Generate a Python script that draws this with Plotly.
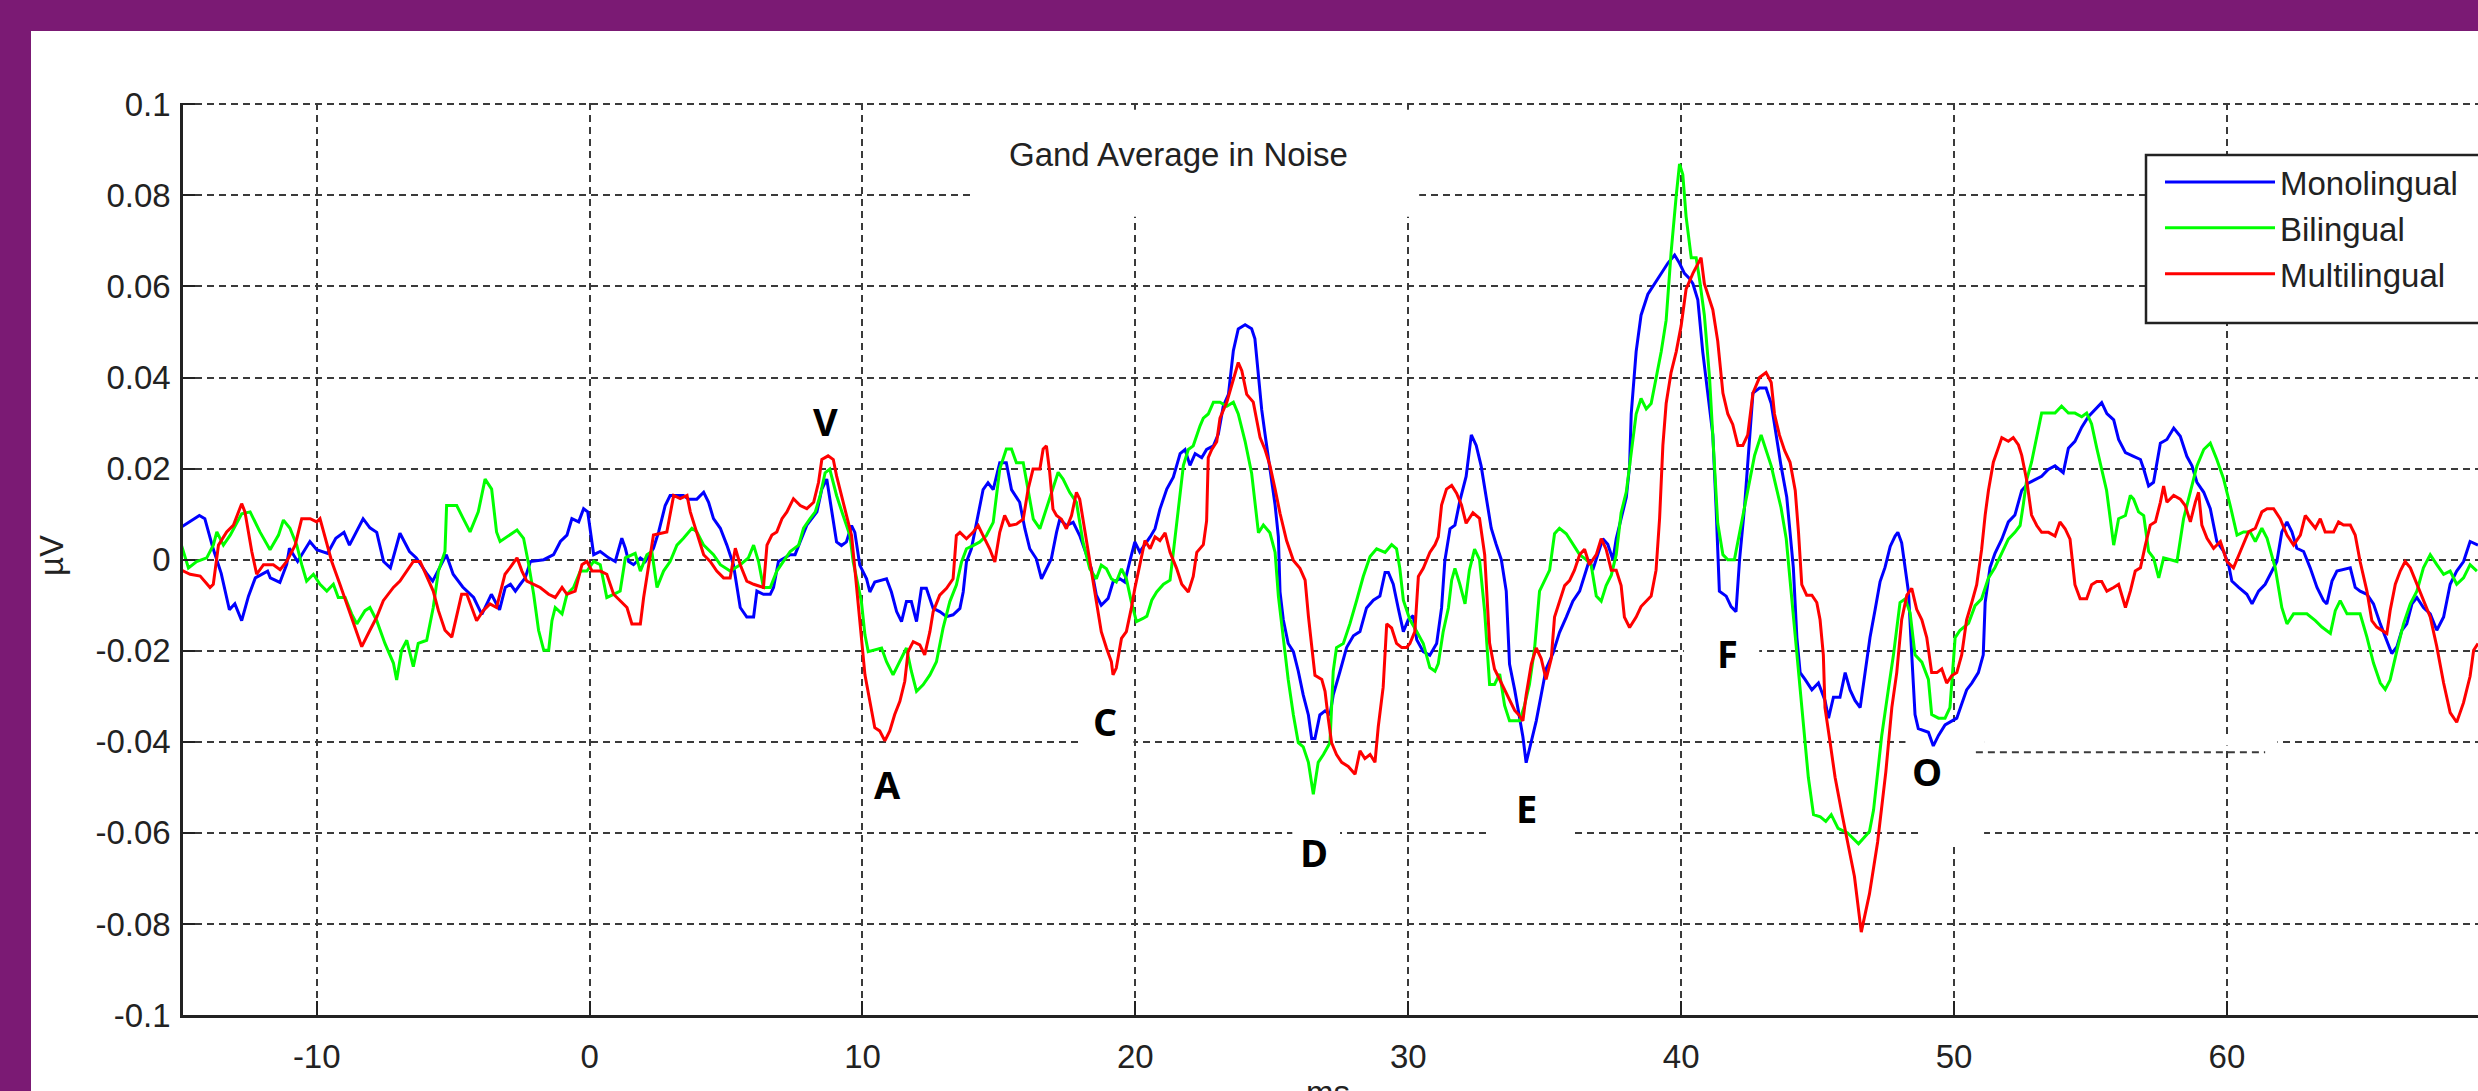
import plotly.graph_objects as go

# ---------------- data (ms, µV) ----------------
blue_t = [-15.0, -14.3, -14.1, -13.8, -13.5, -13.2, -13.0, -12.75, -12.5, -12.25, -11.8, -11.7, -11.35, -11.1, -11.0, -10.7, -10.25, -10.0, -9.6, -9.3, -9.0, -8.8, -8.3, -8.05, -7.8, -7.55, -7.3, -6.95, -6.6, -6.35, -5.95, -5.75, -5.25, -5.0, -4.65, -4.25, -3.95, -3.6, -3.3, -3.09, -2.9, -2.72, -2.54, -2.36, -2.17, -1.68, -1.32, -1.07, -0.83, -0.65, -0.4, -0.22, -0.07, 0.02, 0.15, 0.39, 0.7, 0.94, 1.18, 1.31, 1.43, 1.61, 1.86, 2.04, 2.34, 2.53, 2.77, 2.95, 3.44, 3.63, 3.93, 4.18, 4.36, 4.54, 4.79, 5.03, 5.27, 5.52, 5.76, 6.01, 6.13, 6.37, 6.62, 6.74, 6.92, 7.35, 7.53, 7.72, 7.96, 8.33, 8.51, 8.69, 8.85, 9.05, 9.23, 9.41, 9.6, 9.72, 9.9, 10.15, 10.27, 10.45, 10.88, 11.06, 11.25, 11.43, 11.61, 11.79, 11.98, 12.16, 12.34, 12.59, 12.83, 13.08, 13.32, 13.57, 13.69, 13.81, 13.99, 14.18, 14.42, 14.6, 14.79, 15.03, 15.27, 15.46, 15.76, 15.95, 16.13, 16.37, 16.56, 16.74, 16.92, 17.11, 17.23, 17.47, 17.72, 17.96, 18.21, 18.39, 18.57, 18.75, 19.0, 19.18, 19.43, 19.61, 19.79, 19.98, 20.16, 20.35, 20.54, 20.72, 20.9, 21.15, 21.39, 21.64, 21.82, 22.0, 22.19, 22.43, 22.61, 22.86, 23.04, 23.22, 23.41, 23.59, 23.77, 24.02, 24.26, 24.38, 24.51, 24.63, 24.75, 24.87, 24.99, 25.12, 25.24, 25.3, 25.42, 25.6, 25.79, 25.97, 26.15, 26.34, 26.46, 26.58, 26.76, 26.95, 27.13, 27.25, 27.5, 27.74, 27.99, 28.23, 28.47, 28.72, 28.96, 29.15, 29.27, 29.45, 29.63, 29.82, 30.0, 30.18, 30.31, 30.55, 30.79, 31.04, 31.22, 31.34, 31.53, 31.71, 31.89, 32.12, 32.31, 32.49, 32.67, 32.86, 33.04, 33.22, 33.41, 33.59, 33.71, 33.9, 34.08, 34.2, 34.32, 34.51, 34.69, 34.87, 35.05, 35.3, 35.54, 35.79, 36.03, 36.28, 36.46, 36.64, 36.76, 37.01, 37.13, 37.31, 37.5, 37.62, 37.8, 37.99, 38.11, 38.17, 38.35, 38.53, 38.78, 39.02, 39.27, 39.51, 39.76, 39.94, 40.12, 40.31, 40.43, 40.61, 40.79, 40.98, 41.16, 41.28, 41.4, 41.65, 41.83, 42.01, 42.14, 42.32, 42.5, 42.63, 42.87, 43.11, 43.3, 43.48, 43.66, 43.87, 43.99, 44.11, 44.24, 44.36, 44.54, 44.79, 45.03, 45.27, 45.4, 45.58, 45.82, 46.01, 46.19, 46.37, 46.56, 46.74, 46.92, 47.11, 47.29, 47.47, 47.66, 47.84, 47.94, 48.08, 48.21, 48.33, 48.45, 48.57, 48.69, 49.06, 49.24, 49.43, 49.67, 50.1, 50.28, 50.46, 50.65, 50.89, 51.07, 51.14, 51.32, 51.5, 51.75, 51.99, 52.23, 52.48, 52.72, 52.97, 53.21, 53.45, 53.7, 54.0, 54.19, 54.43, 54.68, 54.92, 55.16, 55.41, 55.6, 55.85, 56.03, 56.28, 56.58, 56.83, 56.95, 57.13, 57.31, 57.56, 57.8, 58.05, 58.29, 58.53, 58.72, 58.9, 59.15, 59.39, 59.63, 59.88, 60.06, 60.18, 60.43, 60.73, 60.92, 61.16, 61.4, 61.65, 61.83, 62.01, 62.2, 62.38, 62.56, 62.81, 63.05, 63.3, 63.54, 63.66, 63.85, 64.03, 64.52, 64.7, 64.88, 65.13, 65.37, 65.62, 65.86, 66.04, 66.23, 66.41, 66.59, 66.78, 66.96, 67.2, 67.45, 67.69, 67.94, 68.18, 68.42, 68.67, 68.91, 69.2]
blue_v = [0.007, 0.0097, 0.009, 0.0025, -0.003, -0.011, -0.0097, -0.0134, -0.008, -0.004, -0.0025, -0.004, -0.005, -0.001, 0.0025, -0.0004, 0.004, 0.0022, 0.0014, 0.0047, 0.006, 0.0032, 0.009, 0.007, 0.006, -0.0004, -0.0018, 0.0058, 0.0018, 0.0004, -0.0032, -0.0047, 0.0011, -0.0032, -0.006, -0.0083, -0.012, -0.0076, -0.011, -0.0061, -0.0054, -0.0069, -0.0054, -0.004, -0.0004, 0.0, 0.0011, 0.004, 0.0054, 0.009, 0.0083, 0.0112, 0.0105, 0.0069, 0.0011, 0.0018, 0.0004, -0.0004, 0.0047, 0.0025, -0.0004, -0.0011, 0.0004, -0.0004, 0.0025, 0.0061, 0.0119, 0.0141, 0.0141, 0.0133, 0.0133, 0.0148, 0.0126, 0.009, 0.0069, 0.0032, -0.0011, -0.0105, -0.0126, -0.0126, -0.0069, -0.0076, -0.0076, -0.0061, -0.0004, 0.0011, 0.0011, 0.004, 0.0076, 0.0105, 0.0155, 0.0177, 0.012, 0.0039, 0.0031, 0.0039, 0.0075, 0.006, -0.0012, -0.0042, -0.0071, -0.0049, -0.0042, -0.0071, -0.0114, -0.0136, -0.0092, -0.0092, -0.0136, -0.0063, -0.0063, -0.0107, -0.0114, -0.0125, -0.0121, -0.0107, -0.0071, -0.0005, 0.0024, 0.0082, 0.0154, 0.0169, 0.0154, 0.0213, 0.0213, 0.0154, 0.0126, 0.0068, 0.0024, 0.0002, -0.0042, -0.002, 0.0002, 0.006, 0.0089, 0.0075, 0.0082, 0.0053, 0.0009, -0.002, -0.0078, -0.01, -0.0085, -0.0049, -0.0042, -0.0049, -0.0005, 0.0039, 0.0017, 0.0033, 0.005, 0.0068, 0.0111, 0.0155, 0.0181, 0.0233, 0.0242, 0.0207, 0.0233, 0.0224, 0.0242, 0.025, 0.0276, 0.0337, 0.0363, 0.0459, 0.0507, 0.0516, 0.0507, 0.0485, 0.0407, 0.0329, 0.0276, 0.0224, 0.0172, 0.012, 0.005, -0.0071, -0.0132, -0.0184, -0.0202, -0.0245, -0.0297, -0.0341, -0.0393, -0.0393, -0.0341, -0.0332, -0.0341, -0.0297, -0.0245, -0.0193, -0.0167, -0.0158, -0.0106, -0.0089, -0.008, -0.0028, -0.0028, -0.0054, -0.0106, -0.0158, -0.0132, -0.0123, -0.0176, -0.0202, -0.021, -0.0184, -0.0106, -0.0002, 0.0068, 0.0076, 0.0129, 0.0183, 0.0274, 0.0251, 0.0206, 0.0137, 0.0069, 0.0034, 0.0, -0.0069, -0.0229, -0.0286, -0.0343, -0.0389, -0.0446, -0.04, -0.0354, -0.0297, -0.024, -0.0206, -0.016, -0.0126, -0.0091, -0.0069, -0.0034, 0.0, -0.0023, 0.0023, 0.0046, 0.0034, 0.0, 0.0046, 0.0091, 0.0137, 0.0206, 0.032, 0.0457, 0.0537, 0.0583, 0.0606, 0.0629, 0.0651, 0.0669, 0.0651, 0.0629, 0.0617, 0.0606, 0.0571, 0.0457, 0.0366, 0.0274, 0.0114, -0.0069, -0.008, -0.0103, -0.0114, 0.0, 0.0114, 0.0263, 0.0366, 0.0377, 0.0377, 0.0343, 0.0274, 0.0206, 0.0137, 0.006, -0.0017, -0.0171, -0.0248, -0.0263, -0.0286, -0.0271, -0.0309, -0.0348, -0.0302, -0.0302, -0.0248, -0.0286, -0.0309, -0.0325, -0.0248, -0.0171, -0.0109, -0.0048, -0.0017, 0.0029, 0.0052, 0.006, 0.0037, -0.0017, -0.0071, -0.0209, -0.034, -0.0371, -0.0379, -0.0409, -0.0386, -0.0363, -0.0348, -0.0317, -0.0286, -0.0271, -0.0248, -0.0209, -0.0094, -0.0017, 0.0014, 0.0045, 0.0083, 0.0098, 0.0152, 0.0168, 0.0175, 0.0183, 0.0198, 0.0206, 0.0191, 0.0245, 0.026, 0.0291, 0.0314, 0.0329, 0.0345, 0.0321, 0.0307, 0.0264, 0.0235, 0.0227, 0.022, 0.0199, 0.0162, 0.017, 0.0256, 0.0264, 0.0289, 0.0271, 0.0227, 0.0206, 0.017, 0.0148, 0.0112, 0.004, 0.0018, -0.0011, -0.0047, -0.0061, -0.0076, -0.0097, -0.0069, -0.0054, -0.0025, -0.0004, 0.0061, 0.0083, 0.0061, 0.0025, 0.0018, -0.0018, -0.0061, -0.009, -0.0097, -0.0047, -0.0025, -0.0018, -0.0061, -0.0069, -0.0076, -0.0097, -0.0141, -0.0177, -0.0206, -0.0191, -0.0155, -0.0141, -0.0097, -0.0083, -0.0105, -0.0119, -0.0155, -0.0126, -0.0054, -0.0025, -0.0004, 0.004, 0.0032]

green_t = [-15.0, -14.7, -14.4, -14.03, -13.79, -13.66, -13.42, -13.17, -12.75, -12.44, -12.08, -11.71, -11.4, -11.22, -10.98, -10.73, -10.55, -10.37, -10.12, -9.88, -9.63, -9.39, -9.21, -8.96, -8.72, -8.53, -8.23, -8.05, -7.8, -7.5, -7.19, -7.07, -6.89, -6.7, -6.46, -6.28, -5.97, -5.73, -5.54, -5.3, -5.24, -4.87, -4.63, -4.38, -4.08, -3.83, -3.59, -3.41, -3.28, -2.66, -2.42, -2.23, -2.05, -1.87, -1.68, -1.5, -1.38, -1.26, -1.01, -0.83, -0.59, -0.34, -0.1, 0.15, 0.39, 0.63, 0.88, 1.12, 1.31, 1.67, 1.86, 2.1, 2.28, 2.47, 2.71, 2.95, 3.2, 3.44, 3.75, 3.93, 4.18, 4.54, 4.79, 5.15, 5.52, 5.82, 6.01, 6.19, 6.37, 6.62, 6.86, 7.11, 7.35, 7.66, 7.84, 8.08, 8.27, 8.45, 8.63, 8.8, 9.05, 9.29, 9.54, 9.66, 9.78, 9.96, 10.09, 10.21, 10.7, 10.88, 11.12, 11.37, 11.61, 11.79, 11.98, 12.22, 12.47, 12.71, 12.95, 13.2, 13.44, 13.63, 13.81, 14.05, 14.3, 14.54, 14.79, 15.03, 15.27, 15.46, 15.64, 15.89, 16.07, 16.26, 16.5, 16.74, 16.98, 17.17, 17.35, 17.59, 17.84, 18.08, 18.33, 18.57, 18.75, 18.94, 19.12, 19.3, 19.49, 19.67, 19.85, 20.04, 20.28, 20.42, 20.6, 20.78, 21.03, 21.27, 21.39, 21.51, 21.64, 21.76, 21.94, 22.12, 22.37, 22.49, 22.67, 22.86, 23.1, 23.35, 23.59, 23.77, 24.02, 24.26, 24.51, 24.69, 24.93, 25.12, 25.24, 25.42, 25.6, 25.79, 25.97, 26.15, 26.34, 26.52, 26.7, 26.89, 27.13, 27.25, 27.37, 27.62, 27.86, 28.11, 28.35, 28.6, 28.84, 29.15, 29.39, 29.57, 29.69, 29.82, 30.06, 30.31, 30.55, 30.79, 30.98, 31.1, 31.28, 31.47, 31.59, 31.71, 31.89, 32.08, 32.24, 32.43, 32.61, 32.8, 32.98, 33.16, 33.35, 33.53, 33.71, 34.08, 34.26, 34.44, 34.63, 34.81, 34.99, 35.18, 35.36, 35.54, 35.79, 36.03, 36.28, 36.52, 36.7, 36.89, 37.07, 37.25, 37.44, 37.62, 37.8, 37.99, 38.17, 38.35, 38.53, 38.72, 38.9, 39.08, 39.27, 39.45, 39.63, 39.82, 39.94, 40.06, 40.18, 40.37, 40.55, 40.67, 40.85, 41.04, 41.22, 41.34, 41.53, 41.71, 41.95, 42.14, 42.32, 42.5, 42.69, 42.93, 43.11, 43.3, 43.48, 43.66, 43.85, 43.97, 44.18, 44.42, 44.66, 44.85, 45.1, 45.3, 45.5, 45.75, 46.1, 46.5, 46.9, 47.05, 47.2, 47.35, 47.59, 47.78, 48.02, 48.21, 48.39, 48.57, 48.82, 49.06, 49.18, 49.43, 49.67, 49.85, 50.04, 50.22, 50.53, 50.77, 51.01, 51.26, 51.5, 51.75, 51.99, 52.23, 52.42, 52.54, 52.66, 52.84, 53.09, 53.21, 53.46, 53.7, 53.94, 54.19, 54.43, 54.68, 54.86, 55.04, 55.23, 55.41, 55.59, 55.85, 56.03, 56.28, 56.46, 56.58, 56.76, 56.95, 57.13, 57.31, 57.5, 57.68, 58.17, 58.41, 58.66, 58.9, 59.15, 59.39, 59.63, 59.88, 60.12, 60.37, 60.61, 60.85, 61.04, 61.28, 61.47, 61.77, 62.01, 62.2, 62.44, 62.93, 63.24, 63.48, 63.79, 63.97, 64.15, 64.4, 64.88, 65.13, 65.37, 65.62, 65.8, 65.98, 66.23, 66.47, 66.72, 66.96, 67.2, 67.45, 67.69, 67.94, 68.18, 68.42, 68.67, 68.91, 69.16]
green_v = [0.004, -0.0018, -0.0004, 0.0004, 0.0032, 0.0061, 0.0032, 0.0054, 0.0101, 0.0105, 0.0061, 0.0022, 0.0054, 0.0087, 0.0069, 0.0032, -0.0011, -0.0047, -0.0032, -0.0054, -0.0069, -0.0054, -0.0083, -0.0083, -0.0119, -0.0141, -0.0112, -0.0105, -0.0134, -0.0184, -0.0227, -0.0264, -0.0199, -0.0177, -0.0235, -0.0184, -0.0177, -0.0105, -0.0025, 0.0018, 0.0119, 0.0119, 0.009, 0.0061, 0.0105, 0.0177, 0.0155, 0.0061, 0.004, 0.0065, 0.0047, -0.0011, -0.0076, -0.0155, -0.0199, -0.0199, -0.0134, -0.0105, -0.0119, -0.0076, -0.0061, -0.0025, -0.0025, -0.0004, -0.0011, -0.0083, -0.0076, -0.0069, 0.0004, 0.0014, -0.0025, 0.0011, 0.0018, -0.0061, -0.0025, -0.0004, 0.0032, 0.0047, 0.0069, 0.0061, 0.0032, 0.0011, -0.0011, -0.0025, -0.0011, 0.0004, 0.0032, -0.0004, -0.0061, -0.0061, -0.0025, -0.0004, 0.0018, 0.0032, 0.0069, 0.009, 0.0105, 0.0141, 0.0191, 0.0199, 0.0141, 0.0097, 0.0053, -0.0005, -0.0042, -0.0092, -0.0165, -0.0202, -0.0194, -0.0224, -0.0253, -0.0224, -0.0194, -0.0245, -0.0289, -0.0275, -0.0253, -0.0224, -0.0151, -0.0092, -0.0056, -0.0005, 0.0024, 0.0031, 0.0039, 0.0053, 0.0082, 0.0199, 0.0243, 0.0243, 0.0213, 0.0213, 0.0155, 0.0089, 0.0068, 0.0111, 0.0155, 0.0192, 0.0177, 0.0148, 0.0126, 0.0039, -0.002, -0.0042, -0.0012, -0.002, -0.0042, -0.0049, -0.002, -0.0042, -0.0092, -0.0136, -0.0129, -0.0124, -0.0089, -0.0071, -0.0054, -0.0045, 0.0016, 0.0076, 0.0155, 0.0207, 0.0242, 0.025, 0.0294, 0.0311, 0.032, 0.0346, 0.0346, 0.0337, 0.0346, 0.032, 0.026, 0.019, 0.0059, 0.0076, 0.0059, 0.0016, -0.008, -0.0176, -0.0263, -0.0341, -0.0402, -0.0411, -0.0445, -0.0515, -0.0445, -0.0428, -0.0402, -0.0245, -0.0193, -0.0184, -0.0141, -0.0089, -0.0037, 0.0007, 0.0024, 0.0016, 0.0033, 0.0024, -0.0019, -0.0089, -0.0132, -0.0158, -0.0184, -0.0237, -0.0245, -0.0228, -0.0158, -0.0106, -0.0045, -0.0019, -0.0054, -0.0097, -0.0023, 0.0023, 0.0, -0.0114, -0.0274, -0.0274, -0.0251, -0.032, -0.0354, -0.0354, -0.032, -0.0274, -0.0194, -0.0069, -0.0046, -0.0023, 0.0057, 0.0069, 0.0057, 0.0034, 0.0011, 0.0, -0.0011, -0.008, -0.0091, -0.0057, -0.0034, 0.0011, 0.0103, 0.0149, 0.024, 0.032, 0.0354, 0.0331, 0.0343, 0.04, 0.0457, 0.0526, 0.0674, 0.08, 0.0869, 0.0846, 0.0754, 0.0663, 0.0663, 0.0617, 0.0537, 0.04, 0.0206, 0.008, 0.0011, 0.0, 0.0, 0.0057, 0.0114, 0.0171, 0.0229, 0.0274, 0.024, 0.0206, 0.016, 0.0114, 0.0046, -0.003, -0.0171, -0.0325, -0.0478, -0.056, -0.0565, -0.0575, -0.056, -0.059, -0.06, -0.0624, -0.0597, -0.055, -0.046, -0.0386, -0.0286, -0.0209, -0.0094, -0.0086, -0.0117, -0.0209, -0.0225, -0.0263, -0.034, -0.0348, -0.0348, -0.0325, -0.0171, -0.0155, -0.014, -0.0101, -0.0086, -0.004, -0.0017, 0.0014, 0.0045, 0.006, 0.0075, 0.0122, 0.0175, 0.0214, 0.0291, 0.0322, 0.0322, 0.0322, 0.0337, 0.0322, 0.0322, 0.0314, 0.0322, 0.0298, 0.0245, 0.0198, 0.0152, 0.0032, 0.009, 0.0097, 0.0141, 0.0133, 0.0105, 0.0097, 0.0018, 0.0004, -0.004, 0.0004, -0.0004, 0.009, 0.0148, 0.0206, 0.0242, 0.0256, 0.022, 0.0177, 0.0119, 0.0054, 0.0061, 0.0061, 0.004, 0.0069, 0.0047, -0.0018, -0.0105, -0.0141, -0.0119, -0.0119, -0.0134, -0.0148, -0.0162, -0.0112, -0.009, -0.0119, -0.0119, -0.017, -0.0227, -0.0271, -0.0285, -0.0264, -0.0199, -0.0141, -0.0097, -0.0069, -0.0018, 0.0011, -0.0011, -0.0032, -0.0025, -0.0054, -0.004, -0.0011, -0.0025]

red_t = [-15.0, -14.64, -14.27, -13.91, -13.79, -13.6, -13.3, -13.05, -12.75, -12.63, -12.38, -12.2, -11.95, -11.59, -11.34, -11.1, -10.79, -10.55, -10.24, -10.0, -9.88, -9.69, -9.45, -9.15, -8.9, -8.66, -8.35, -8.05, -7.8, -7.56, -7.37, -7.19, -6.95, -6.7, -6.46, -6.21, -5.91, -5.73, -5.54, -5.3, -5.05, -4.87, -4.69, -4.5, -4.32, -4.14, -3.9, -3.65, -3.41, -3.28, -3.1, -2.92, -2.66, -2.48, -2.3, -2.05, -1.81, -1.5, -1.26, -1.01, -0.83, -0.53, -0.28, -0.1, 0.09, 0.39, 0.63, 0.88, 1.12, 1.37, 1.55, 1.86, 1.98, 2.16, 2.34, 2.83, 3.08, 3.32, 3.57, 3.69, 3.93, 4.18, 4.42, 4.66, 4.91, 5.15, 5.34, 5.52, 5.76, 6.01, 6.37, 6.5, 6.68, 6.86, 7.05, 7.23, 7.47, 7.72, 7.96, 8.21, 8.39, 8.51, 8.74, 8.93, 9.05, 9.23, 9.41, 9.6, 9.72, 9.84, 9.96, 10.09, 10.27, 10.45, 10.63, 10.82, 11.0, 11.18, 11.37, 11.55, 11.67, 11.86, 12.1, 12.28, 12.47, 12.59, 12.83, 13.08, 13.32, 13.44, 13.57, 13.81, 14.05, 14.24, 14.42, 14.66, 14.85, 15.03, 15.21, 15.39, 15.64, 15.89, 16.07, 16.25, 16.5, 16.62, 16.74, 16.86, 16.98, 17.11, 17.29, 17.47, 17.66, 17.84, 17.96, 18.08, 18.21, 18.39, 18.57, 18.75, 18.94, 19.12, 19.18, 19.3, 19.49, 19.67, 19.85, 19.98, 20.16, 20.35, 20.54, 20.72, 20.9, 21.09, 21.27, 21.51, 21.7, 21.94, 22.12, 22.25, 22.49, 22.61, 22.67, 22.8, 22.98, 23.1, 23.35, 23.59, 23.77, 23.9, 24.08, 24.32, 24.44, 24.57, 24.75, 24.93, 25.12, 25.3, 25.54, 25.79, 26.03, 26.22, 26.34, 26.46, 26.58, 26.83, 26.95, 27.07, 27.19, 27.37, 27.56, 27.8, 28.05, 28.23, 28.41, 28.6, 28.78, 28.9, 29.08, 29.21, 29.39, 29.57, 29.76, 29.94, 30.06, 30.24, 30.37, 30.55, 30.79, 30.98, 31.1, 31.22, 31.4, 31.59, 31.77, 31.95, 32.12, 32.37, 32.61, 32.8, 32.98, 33.16, 33.35, 33.53, 33.71, 33.9, 34.08, 34.2, 34.32, 34.51, 34.69, 34.87, 35.05, 35.24, 35.36, 35.54, 35.73, 35.91, 36.09, 36.28, 36.46, 36.64, 36.89, 37.07, 37.25, 37.44, 37.62, 37.8, 37.92, 38.11, 38.35, 38.53, 38.72, 38.9, 39.08, 39.21, 39.33, 39.45, 39.63, 39.82, 40.0, 40.18, 40.43, 40.61, 40.73, 40.85, 40.98, 41.16, 41.34, 41.53, 41.71, 41.89, 42.08, 42.26, 42.44, 42.63, 42.87, 43.11, 43.3, 43.42, 43.6, 43.79, 43.99, 44.18, 44.3, 44.42, 44.6, 44.79, 44.97, 45.09, 45.21, 45.27, 45.46, 45.64, 45.9, 46.1, 46.35, 46.6, 46.9, 47.2, 47.5, 47.72, 47.9, 48.08, 48.27, 48.45, 48.63, 48.82, 49.0, 49.18, 49.37, 49.55, 49.73, 49.91, 50.1, 50.28, 50.46, 50.65, 50.83, 51.01, 51.14, 51.26, 51.44, 51.62, 51.75, 51.99, 52.17, 52.36, 52.48, 52.66, 52.84, 53.03, 53.21, 53.46, 53.7, 53.88, 54.07, 54.25, 54.43, 54.62, 54.86, 55.04, 55.23, 55.41, 55.6, 55.85, 56.03, 56.28, 56.46, 56.64, 56.83, 57.01, 57.19, 57.38, 57.56, 57.68, 57.8, 58.05, 58.29, 58.47, 58.66, 58.84, 58.96, 59.08, 59.27, 59.51, 59.76, 60.0, 60.24, 60.49, 60.79, 61.04, 61.28, 61.47, 61.71, 61.95, 62.2, 62.44, 62.69, 62.87, 63.05, 63.24, 63.42, 63.6, 63.91, 64.09, 64.27, 64.52, 64.7, 64.88, 65.13, 65.31, 65.49, 65.68, 65.86, 65.98, 66.17, 66.35, 66.53, 66.72, 66.96, 67.2, 67.45, 67.69, 67.94, 68.18, 68.42, 68.67, 68.91, 69.04, 69.2]
red_v = [-0.0022, -0.0032, -0.0036, -0.0061, -0.0054, 0.0032, 0.0061, 0.0076, 0.0123, 0.0105, 0.0018, -0.0032, -0.0011, -0.0011, -0.0022, -0.0004, 0.0032, 0.009, 0.009, 0.0083, 0.009, 0.0047, -0.0004, -0.0054, -0.0097, -0.0141, -0.0191, -0.0155, -0.0126, -0.009, -0.0076, -0.0061, -0.0047, -0.0025, -0.0004, -0.0004, -0.0047, -0.0069, -0.0112, -0.0155, -0.017, -0.0126, -0.0076, -0.0076, -0.0105, -0.0134, -0.0112, -0.0097, -0.0105, -0.0076, -0.0032, -0.0018, 0.0004, -0.0025, -0.0047, -0.0054, -0.0061, -0.0076, -0.0083, -0.0061, -0.0076, -0.0069, -0.0011, -0.0004, -0.0025, -0.0025, -0.0032, -0.0076, -0.009, -0.0105, -0.0141, -0.0141, -0.0083, -0.0011, 0.0054, 0.0061, 0.0141, 0.0134, 0.0141, 0.0105, 0.0061, 0.0011, -0.0004, -0.0025, -0.004, -0.004, 0.0025, -0.0011, -0.0047, -0.0054, -0.0061, 0.0032, 0.0054, 0.0061, 0.009, 0.0105, 0.0134, 0.0119, 0.0112, 0.0126, 0.017, 0.022, 0.0228, 0.022, 0.0184, 0.0141, 0.0097, 0.0053, -0.002, -0.0092, -0.0165, -0.0253, -0.0311, -0.0369, -0.0376, -0.0398, -0.0376, -0.034, -0.0311, -0.0267, -0.0202, -0.018, -0.0187, -0.0209, -0.0158, -0.0114, -0.0078, -0.0063, -0.0042, 0.0053, 0.006, 0.0046, 0.006, 0.0075, 0.0053, 0.0024, -0.0005, 0.006, 0.0097, 0.0075, 0.0078, 0.0089, 0.0155, 0.0199, 0.0199, 0.0243, 0.025, 0.0192, 0.0111, 0.0097, 0.0089, 0.0068, 0.0097, 0.0148, 0.0133, 0.009, 0.0039, -0.002, -0.0092, -0.0158, -0.0194, -0.0224, -0.0253, -0.0238, -0.0173, -0.0158, -0.0107, -0.0063, -0.0012, 0.0042, 0.0024, 0.005, 0.0042, 0.0059, 0.0016, -0.0019, -0.0054, -0.0071, -0.0037, 0.0016, 0.0033, 0.0085, 0.0224, 0.0242, 0.0259, 0.0311, 0.0346, 0.0398, 0.0433, 0.0415, 0.0363, 0.0346, 0.0311, 0.0268, 0.0242, 0.0207, 0.0155, 0.0102, 0.0042, -0.0002, -0.0019, -0.0045, -0.0124, -0.0193, -0.0254, -0.0263, -0.0289, -0.035, -0.0402, -0.0428, -0.0445, -0.0454, -0.0471, -0.042, -0.0437, -0.0428, -0.0445, -0.0367, -0.028, -0.0141, -0.015, -0.0184, -0.0193, -0.0193, -0.0184, -0.0158, -0.0037, -0.0019, 0.0016, 0.0033, 0.005, 0.012, 0.0155, 0.0163, 0.0146, 0.012, 0.008, 0.0103, 0.0091, 0.0011, -0.0183, -0.024, -0.0263, -0.0286, -0.0309, -0.0331, -0.0343, -0.0354, -0.0297, -0.0229, -0.0194, -0.0217, -0.0263, -0.0217, -0.0126, -0.0091, -0.0057, -0.0046, -0.0023, 0.0011, 0.0023, -0.0011, 0.0011, 0.0046, 0.0023, -0.0023, -0.0023, -0.0057, -0.0126, -0.0149, -0.0126, -0.0103, -0.0091, -0.008, -0.0023, 0.0091, 0.0251, 0.0343, 0.0411, 0.0457, 0.0514, 0.0594, 0.0629, 0.0651, 0.0663, 0.0606, 0.0583, 0.0549, 0.048, 0.0366, 0.032, 0.0297, 0.0251, 0.0251, 0.0274, 0.0366, 0.04, 0.0411, 0.0389, 0.032, 0.0274, 0.024, 0.0214, 0.0152, 0.006, -0.0055, -0.0078, -0.0078, -0.0094, -0.0132, -0.0209, -0.0325, -0.0402, -0.0478, -0.056, -0.062, -0.0696, -0.0818, -0.0734, -0.062, -0.0466, -0.0325, -0.0248, -0.0132, -0.0078, -0.0063, -0.0109, -0.0132, -0.0171, -0.0248, -0.0248, -0.024, -0.0271, -0.0255, -0.0248, -0.0209, -0.0132, -0.0094, -0.0055, 0.0022, 0.0098, 0.0152, 0.0214, 0.0245, 0.0268, 0.026, 0.0268, 0.0252, 0.0229, 0.0175, 0.0098, 0.0075, 0.006, 0.006, 0.0052, 0.0083, 0.0068, 0.0045, -0.0055, -0.0086, -0.0086, -0.0055, -0.0048, -0.0048, -0.0069, -0.0061, -0.0054, -0.0105, -0.0069, -0.0025, -0.0018, 0.0032, 0.0076, 0.0083, 0.0126, 0.0162, 0.0126, 0.0141, 0.0133, 0.0119, 0.0083, 0.0126, 0.0148, 0.0076, 0.0047, 0.0025, 0.004, -0.0004, -0.0018, 0.0018, 0.0061, 0.0069, 0.0105, 0.0112, 0.0112, 0.009, 0.0054, 0.0032, 0.0054, 0.0097, 0.0083, 0.0069, 0.009, 0.0061, 0.0061, 0.0083, 0.0076, 0.0076, 0.0054, -0.0004, -0.0069, -0.0134, -0.0148, -0.0155, -0.0162, -0.0112, -0.0054, -0.0025, -0.0004, -0.0018, -0.0054, -0.009, -0.0126, -0.0191, -0.0271, -0.0336, -0.0357, -0.0314, -0.0256, -0.0199, -0.0184]

series_names = ["Monolingual", "Bilingual", "Multilingual"]

x_tick_vals = [-10, 0, 10, 20, 30, 40, 50, 60]
x_tick_text = ["-10", "0", "10", "20", "30", "40", "50", "60"]
y_tick_vals = [0.1, 0.08, 0.06, 0.04, 0.02, 0.0, -0.02, -0.04, -0.06, -0.08, -0.1]
y_tick_text = ["0.1", "0.08", "0.06", "0.04", "0.02", "0", "-0.02", "-0.04", "-0.06", "-0.08", "-0.1"]

peak_labels = ["V", "A", "C", "D", "E", "F", "O"]
peak_t = [8.66, 10.9, 18.87, 26.55, 34.35, 41.68, 49.0]
peak_v = [0.0305, -0.0493, -0.0355, -0.0641, -0.0546, -0.0206, -0.0464]

chart_title = "Gand Average in Noise"
x_title = "ms"
y_title = "µV"

# ---------------- figure ----------------
W, H = 2478, 1091
L, R, T, B = 183, 2478, 103, 1015


def px(x):
    return (x - L) / (R - L)


def py(y):
    return (B - y) / (B - T)


FONT = "Liberation Sans, Arial, sans-serif"
TXT = "#222222"
GRID = "#3a3a3a"

fig = go.Figure()
for name, t, v, col in [
    (series_names[0], blue_t, blue_v, "#0000ff"),
    (series_names[1], green_t, green_v, "#00ff00"),
    (series_names[2], red_t, red_v, "#ff0000"),
]:
    fig.add_trace(go.Scatter(x=t, y=v, mode="lines", name=name, legendgroup=name,
                             line=dict(color=col, width=3)))

shapes = [
    # white panel on purple frame
    dict(type="rect", xref="paper", yref="paper", x0=px(31), x1=px(2600), y0=py(31), y1=py(1200),
         fillcolor="white", line=dict(width=0), layer="below"),
    # legend frame (box runs past the right edge, as in the cropped original)
    dict(type="rect", xref="paper", yref="paper", x0=px(2146), x1=px(2500), y0=py(323), y1=py(155),
         fillcolor="white", line=dict(color="#222222", width=2.5), layer="above"),
]
# white boxes that hide grid lines behind the title and peak labels
masks = [
    (14.03, 30.4, 0.0753, 0.0988),
    (18.0, 19.93, -0.046, -0.031),
    (25.75, 27.5, -0.07, -0.058),
    (32.86, 36.05, -0.066, -0.052),
    (40.1, 42.86, -0.0235, -0.0175),
    (48.22, 51.1, -0.0575, -0.036),
    (48.8, 51.1, -0.0625, -0.0575),
    (51.1, 61.85, -0.0408, -0.0392),
]
for x0, x1, y0, y1 in masks:
    shapes.append(dict(type="rect", xref="x", yref="y", x0=x0, x1=x1, y0=y0, y1=y1,
                       fillcolor="white", line=dict(width=0), layer="between"))
shapes.append(dict(type="line", xref="x", yref="y", x0=50.8, x1=61.4, y0=-0.0423, y1=-0.0423,
                   line=dict(color=GRID, width=2, dash="7px,5px"), layer="between"))

annotations = [
    dict(text=chart_title, xref="paper", yref="paper", x=px(1178), y=py(155), showarrow=False,
         font=dict(family=FONT, size=33, color=TXT), xanchor="center", yanchor="middle"),
    dict(text=y_title, xref="paper", yref="paper", x=px(51), y=py(556), showarrow=False, textangle=-90,
         font=dict(family=FONT, size=33, color=TXT), xanchor="center", yanchor="middle"),
    dict(text=x_title, xref="paper", yref="paper", x=px(1328), y=py(1092), showarrow=False,
         font=dict(family=FONT, size=33, color=TXT), xanchor="center", yanchor="middle"),
]
for lab, t, v in zip(peak_labels, peak_t, peak_v):
    annotations.append(dict(text=lab, x=t, y=v, xref="x", yref="y", showarrow=False,
                            font=dict(family="Open Sans, Lato, sans-serif", size=38, color="black",
                                      weight="bold"),
                            xanchor="center", yanchor="middle"))

fig.update_layout(
    width=W, height=H,
    margin=dict(l=L, r=W - R, t=T, b=H - B, pad=0),
    paper_bgcolor="#7b1a74",
    plot_bgcolor="white",
    font=dict(family=FONT, size=33, color=TXT),
    showlegend=True,
    legend=dict(x=px(2160), y=py(154), xanchor="left", yanchor="top",
                bgcolor="rgba(0,0,0,0)", borderwidth=0,
                font=dict(family=FONT, size=33, color=TXT),
                itemwidth=110, tracegroupgap=11, traceorder="normal"),
    shapes=shapes,
    annotations=annotations,
    xaxis=dict(range=[-14.9, 69.2], tickvals=x_tick_vals, ticktext=x_tick_text,
               showgrid=True, gridcolor=GRID, gridwidth=2, griddash="7px,5px",
               zeroline=False, showline=True, linecolor=TXT, linewidth=3,
               ticks="inside", ticklen=14, tickwidth=2, tickcolor=TXT,
               ticklabelstandoff=10, tickfont=dict(family=FONT, size=33, color=TXT)),
    yaxis=dict(range=[-0.1, 0.1003], tickvals=y_tick_vals, ticktext=y_tick_text,
               showgrid=True, gridcolor=GRID, gridwidth=2, griddash="7px,5px",
               zeroline=False, showline=True, linecolor=TXT, linewidth=2.5,
               ticks="inside", ticklen=12, tickwidth=2, tickcolor=TXT,
               ticklabelstandoff=3, tickfont=dict(family=FONT, size=33, color=TXT)),
)

fig.write_html("out.html", config={"displayModeBar": False},
               post_script="document.body.style.margin='0';document.body.style.overflow='hidden';")
